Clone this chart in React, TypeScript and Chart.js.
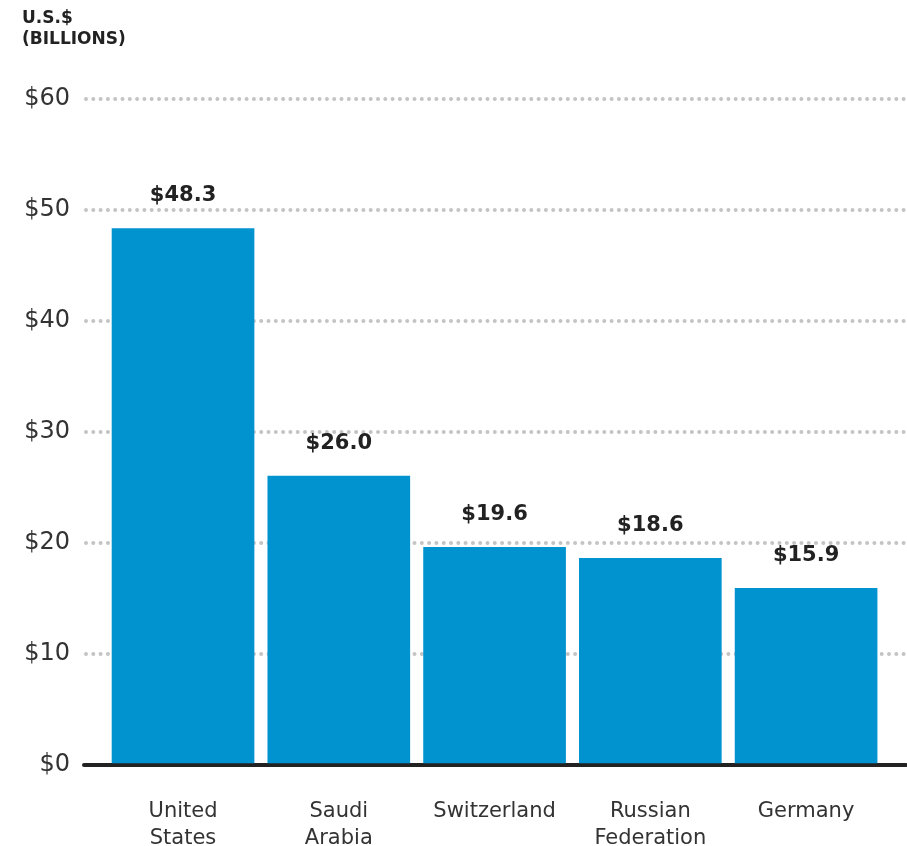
import React, { useEffect, useRef } from "react";
import { Chart, registerables } from "chart.js";

Chart.register(...registerables);

const categories: string[][] = [
  ["United", "States"],
  ["Saudi", "Arabia"],
  ["Switzerland"],
  ["Russian", "Federation"],
  ["Germany"],
];
const values: number[] = [48.3, 26.0, 19.6, 18.6, 15.9];
const yTicks: number[] = [0, 10, 20, 30, 40, 50, 60];
const titleLines: string[] = ["U.S.$", "(BILLIONS)"];

const FONT = "'DejaVu Sans', sans-serif";

export default function App() {
  const ref = useRef<HTMLCanvasElement | null>(null);

  useEffect(() => {
    if (!ref.current) return;

    const roundCaps = {
      id: "roundCaps",
      beforeDraw(chart: any) {
        chart.ctx.lineCap = "round";
      },
    };

    const valueLabels = {
      id: "valueLabels",
      afterDatasetsDraw(chart: any) {
        const ctx = chart.ctx;
        const meta = chart.getDatasetMeta(0);
        ctx.save();
        ctx.font = `bold 21px ${FONT}`;
        ctx.fillStyle = "#222222";
        ctx.textAlign = "center";
        ctx.textBaseline = "middle";
        meta.data.forEach((bar: any, i: number) => {
          ctx.fillText("$" + values[i].toFixed(1), bar.x, bar.y - 33);
        });
        ctx.restore();
      },
    };

    const chart = new Chart(ref.current, {
      type: "bar",
      data: {
        datasets: [
          {
            data: values.map((v, i) => ({ x: i, y: v })),
            backgroundColor: "#0093D0",
            borderWidth: 0,
            barThickness: 142,
          },
        ],
      },
      options: {
        animation: false,
        responsive: true,
        maintainAspectRatio: false,
        layout: { padding: { left: 22, right: 2, top: 0, bottom: 0 } },
        plugins: {
          legend: { display: false },
          tooltip: { enabled: false },
          title: {
            display: true,
            text: titleLines,
            align: "start",
            color: "#222222",
            font: { family: FONT, size: 17, weight: "bold", lineHeight: 1.25 },
            padding: { top: 8, bottom: 48 },
          },
        },
        scales: {
          x: {
            type: "linear",
            min: -0.623,
            max: 4.635,
            offset: false,
            afterBuildTicks(scale: any) {
              scale.ticks = categories.map((_, i) => ({ value: i }));
            },
            afterFit(scale: any) {
              scale.height = 81;
            },
            ticks: {
              autoSkip: false,
              maxRotation: 0,
              padding: 34,
              color: "#333333",
              font: { family: FONT, size: 21, lineHeight: 1.24 },
              callback: (v: any) => categories[Math.round(Number(v))] ?? "",
            },
            grid: { display: false, drawTicks: false },
            border: { display: true, color: "#222222", width: 4 },
          },
          y: {
            min: 0,
            max: 60,
            afterBuildTicks(scale: any) {
              scale.ticks = yTicks.map((v) => ({ value: v }));
            },
            afterFit(scale: any) {
              scale.width = 64;
            },
            ticks: {
              padding: 16,
              color: "#333333",
              font: { family: FONT, size: 24 },
              callback: (v: any) => "$" + v,
            },
            grid: {
              drawTicks: false,
              lineWidth: 4,
              color: (c: any) => (c.tick && c.tick.value === 0 ? "rgba(0,0,0,0)" : "#C4C4C4"),
            },
            border: { display: false, dash: [0, 7.3] },
          },
        },
      },
      plugins: [roundCaps, valueLabels],
    });

    return () => chart.destroy();
  }, []);

  return (
    <div style={{ position: "absolute", left: 0, top: 0, width: 907, height: 846, background: "#fff" }}>
      <canvas ref={ref} />
    </div>
  );
}
